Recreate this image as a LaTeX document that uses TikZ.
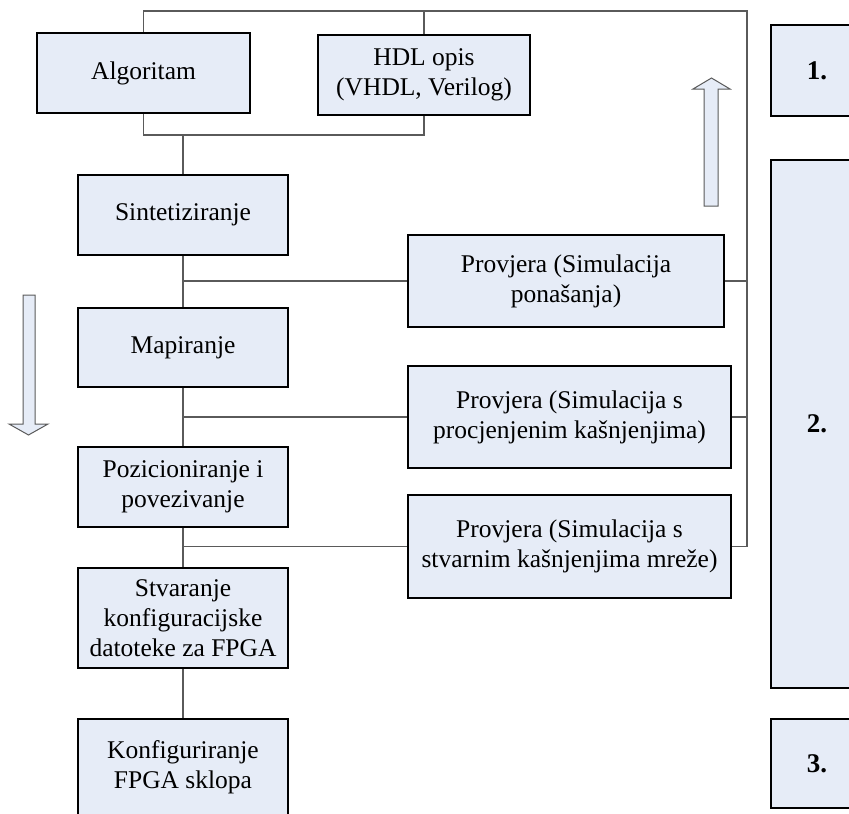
\documentclass[tikz,border=0pt]{standalone}
\usepackage{fontspec}
\setmainfont{Liberation Serif}
\definecolor{boxfill}{RGB}{230,236,247}
\definecolor{linegray}{RGB}{90,90,90}
\begin{document}
\begin{tikzpicture}[x=1pt,y=-1pt,
  blk/.style={draw=black,line width=2pt,fill=boxfill,inner sep=0pt,align=center,
    font=\fontsize{25.5}{30}\selectfont},
  num/.style={blk,font=\fontsize{27}{30}\selectfont\bfseries},
  conn/.style={draw=linegray,line width=1.6pt},
  hollow/.style={draw=linegray,line width=1pt,fill=boxfill,line join=miter}]
\useasboundingbox (0,0) rectangle (849,814);
\clip (0,0) rectangle (849,814);
% left column
\node[blk,minimum width=213pt,minimum height=80pt] (alg) at (143.5,73) {Algoritam};
\node[blk,minimum width=212pt,minimum height=80pt] (hdl) at (424,75) {HDL opis\\(VHDL, Verilog)};
\node[blk,minimum width=210pt,minimum height=80pt] (sin) at (183,215) {Sintetiziranje};
\node[blk,minimum width=210pt,minimum height=79pt] (map) at (183,347.5) {Mapiranje};
\node[blk,minimum width=210pt,minimum height=80pt] (poz) at (183,487) {Pozicioniranje i\\povezivanje};
\node[blk,minimum width=210pt,minimum height=100pt] (stv) at (183,618) {Stvaranje\\konfiguracijske\\datoteke za FPGA};
\node[blk,minimum width=210pt,minimum height=97pt] (kon) at (183,767.5) {Konfiguriranje\\FPGA sklopa};
% verification boxes
\node[blk,minimum width=316pt,minimum height=92pt] (p1) at (566,281) {Provjera (Simulacija\\ponašanja)};
\node[blk,minimum width=323pt,minimum height=102pt] (p2) at (569.5,417) {Provjera (Simulacija s\\procjenjenim kašnjenjima)};
\node[blk,minimum width=323pt,minimum height=103pt] (p3) at (569.5,546.5) {Provjera (Simulacija s\\stvarnim kašnjenjima mreže)};
% right column
\node[num,minimum width=92pt,minimum height=91pt] (r1) at (817,70.5) {1.};
\node[num,minimum width=92pt,minimum height=528pt] (r2) at (817,424) {2.};
\node[num,minimum width=92pt,minimum height=89pt] (r3) at (817,763.5) {3.};
% connectors
\coordinate (tr) at (747,11);
\coordinate (bus) at (183,135);
\draw[conn] (alg.north) |- (tr) -- (tr |- p3.east) -- (p3.east);
\draw[conn] (hdl.north) -- (hdl.north |- tr);
\draw[conn] (p1.east) -- (p1.east -| tr);
\draw[conn] (p2.east) -- (p2.east -| tr);
\draw[conn] (alg.south) |- (hdl.south |- bus) -- (hdl.south);
\draw[conn] (bus) -- (sin.north);
\draw[conn] (sin.south) -- (map.north);
\draw[conn] (sin.south |- p1.west) -- (p1.west);
\draw[conn] (map.south) -- (poz.north);
\draw[conn] (map.south |- p2.west) -- (p2.west);
\draw[conn] (poz.south) -- (stv.north);
\draw[conn] (poz.south |- p3.west) -- (p3.west);
\draw[conn] (stv.south) -- (kon.north);
% hollow arrows
\draw[hollow] (704,206) -- (704,89) -- (693,89) -- (711.5,78) -- (730,89) -- (718,89) -- (718,206) -- cycle;
\draw[hollow] (23,295) -- (23,424) -- (9,424) -- (28.5,435) -- (48,424) -- (35,424) -- (35,295) -- cycle;
\end{tikzpicture}
\end{document}
